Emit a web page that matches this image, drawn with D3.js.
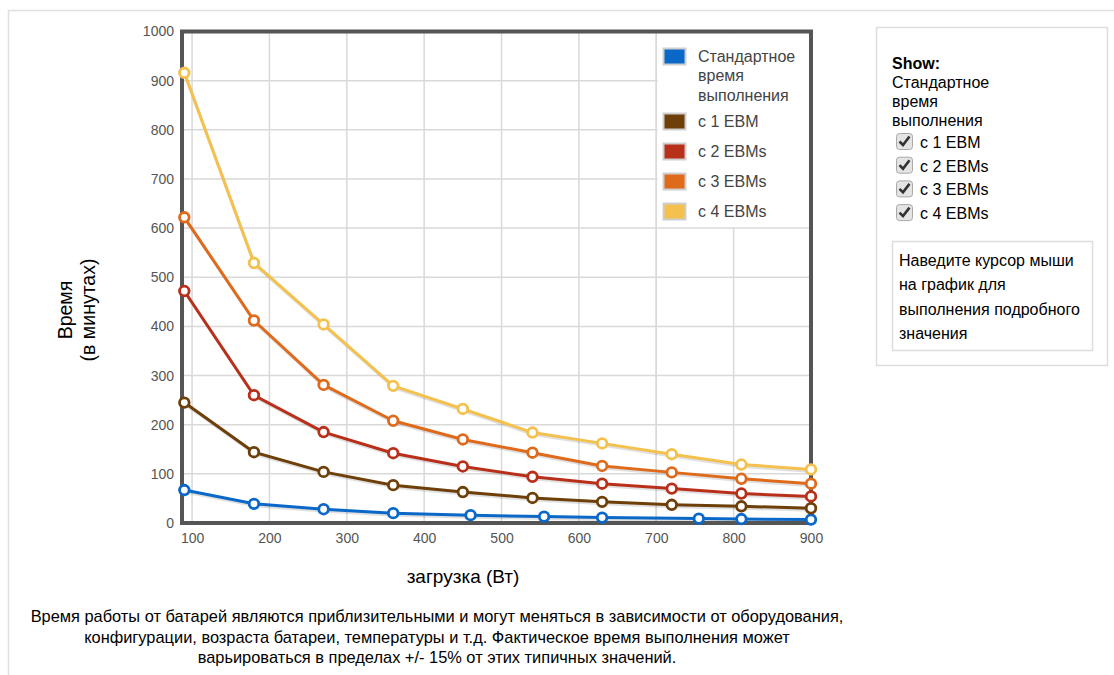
<!DOCTYPE html>
<html><head><meta charset="utf-8">
<script src="https://cdn.jsdelivr.net/npm/d3@7"></script>
<style>
body{margin:0;background:#fff;font-family:"Liberation Sans",Arial,sans-serif;}
svg{display:block}
</style></head><body>
<svg id="c" width="1114" height="675"></svg>
<script>
const xStd = [90,180,270,360,460,555,630,755,810,900];
const xEbm = [90,180,270,360,450,540,630,720,810,900];
const seriesNames = ["Стандартное время выполнения","с 1 EBM","с 2 EBMs","с 3 EBMs","с 4 EBMs"];
const seriesColors = ["#0a68c8","#6e3f08","#b9301a","#df6a1c","#f4c04e"];
const valStd  = [67,39,28,20,16,13,11,9,8,7];
const val1    = [245,144,104,77,63,51,43,37,34,30];
const val2    = [472,260,185,142,115,94,80,70,60,54];
const val3    = [622,412,281,208,170,143,116,103,90,80];
const val4    = [916,529,404,279,232,184,162,140,119,109];
const xTicks = [100,200,300,400,500,600,700,800,900];
const yTicks = [0,100,200,300,400,500,600,700,800,900,1000];
const noteLines = ["Время работы от батарей являются приблизительными и могут меняться в зависимости от оборудования,",
 "конфигурации, возраста батареи, температуры и т.д. Фактическое время выполнения может",
 "варьироваться в пределах +/- 15% от этих типичных значений."];
const showItems = ["с 1 EBM","с 2 EBMs","с 3 EBMs","с 4 EBMs"];
const hoverLines = ["Наведите курсор мыши","на график для","выполнения подробного","значения"];

const series = [
  {name:seriesNames[0], color:seriesColors[0], xs:xStd, ys:valStd},
  {name:seriesNames[1], color:seriesColors[1], xs:xEbm, ys:val1},
  {name:seriesNames[2], color:seriesColors[2], xs:xEbm, ys:val2},
  {name:seriesNames[3], color:seriesColors[3], xs:xEbm, ys:val3},
  {name:seriesNames[4], color:seriesColors[4], xs:xEbm, ys:val4}
];
const FF = "Liberation Sans, Arial, sans-serif";
const svg = d3.select("#c");
// outer frame
svg.append("path").attr("d","M8.5,675 L8.5,10.5 L1114,10.5").attr("fill","none").attr("stroke","#e0e0e0").attr("stroke-width",1.5);

const L=182, R=811, T=31.5, B=523;
const x = d3.scaleLinear().domain([87,900]).range([L,R]);
const y = d3.scaleLinear().domain([0,1000]).range([B,T]);

// grid
const g = svg.append("g");
g.selectAll(".vg").data(xTicks).join("line")
  .attr("x1",d=>x(d)).attr("x2",d=>x(d)).attr("y1",T).attr("y2",B)
  .attr("stroke","#d9d9d9").attr("stroke-width",1.5);
g.selectAll(".hg").data(yTicks).join("line")
  .attr("x1",L).attr("x2",R).attr("y1",d=>y(d)).attr("y2",d=>y(d))
  .attr("stroke","#d9d9d9").attr("stroke-width",1.5);

// legend background
svg.append("rect").attr("x",x(700)+1.5).attr("y",T+2).attr("width",R-x(700)-3).attr("height",y(600)-T-3).attr("fill","#fff");
svg.append("line").attr("x1",x(700)).attr("x2",x(700)).attr("y1",T).attr("y2",B).attr("stroke","#d9d9d9").attr("stroke-width",1.5);

// axes labels via d3 axis
const yAxis = d3.axisLeft(y).tickValues(yTicks).tickFormat(d3.format("d")).tickSize(0).tickPadding(8);
const ya = svg.append("g").attr("transform",`translate(${L},0)`).call(yAxis);
ya.select(".domain").remove();
ya.selectAll("text").attr("font-family",FF).attr("font-size",14).attr("fill","#555");
const xAxis = d3.axisBottom(x).tickValues(xTicks).tickFormat(d3.format("d")).tickSize(0).tickPadding(10);
const xa = svg.append("g").attr("transform",`translate(0,${B})`).call(xAxis);
xa.select(".domain").remove();
xa.selectAll("text").attr("font-family",FF).attr("font-size",14).attr("fill","#555");

// lines
const line = d3.line().x(d=>x(d[0])).y(d=>y(d[1]));
series.forEach(s=>{
  const pts = s.xs.map((v,i)=>[v,s.ys[i]]);
  svg.append("path").datum(pts).attr("d",line).attr("fill","none")
    .attr("stroke","#000").attr("stroke-opacity",0.12).attr("stroke-width",3)
    .attr("transform","translate(1,2)");
});
series.forEach(s=>{
  const pts = s.xs.map((v,i)=>[v,s.ys[i]]);
  svg.append("path").datum(pts).attr("d",line).attr("fill","none")
    .attr("stroke",s.color).attr("stroke-width",3).attr("stroke-linejoin","round");
});

// plot border
svg.append("rect").attr("x",L).attr("y",T).attr("width",R-L).attr("height",B-T)
  .attr("fill","none").attr("stroke","#555").attr("stroke-width",4);

// markers
series.forEach(s=>{
  const pts = s.xs.map((v,i)=>[v,s.ys[i]]);
  svg.append("g").selectAll("circle").data(pts).join("circle")
    .attr("cx",d=>x(d[0])).attr("cy",d=>y(d[1])).attr("r",4.8)
    .attr("fill","#fff").attr("stroke",s.color).attr("stroke-width",2.8);
});

// legend
const lg = svg.append("g").attr("font-family",FF).attr("font-size",16).attr("fill","#444");
const legY = [48,113,143,173,203];
series.forEach((s,i)=>{
  lg.append("rect").attr("x",663.5).attr("y",legY[i]+0.5).attr("width",22).attr("height",16)
    .attr("fill",s.color).attr("stroke","#cfcfcf").attr("stroke-width",2);
});
const legText = [["Стандартное","время","выполнения"],["с 1 EBM"],["с 2 EBMs"],["с 3 EBMs"],["с 4 EBMs"]];
legText.forEach((lines,i)=>{
  lines.forEach((t,j)=>{
    lg.append("text").attr("x",698).attr("y",legY[i]+14+j*19.3).text(t);
  });
});

// axis titles
const yt = svg.append("text").attr("transform","translate(72,310) rotate(-90)").attr("text-anchor","middle")
  .attr("font-family",FF).attr("font-size",19.5).attr("fill","#000");
yt.append("tspan").attr("x",0).attr("dy",0).text("Время");
yt.append("tspan").attr("x",0).attr("dy",23).text("(в минутах)");
svg.append("text").attr("x",463).attr("y",583).attr("text-anchor","middle")
  .attr("font-family",FF).attr("font-size",19).attr("fill","#000").text("загрузка (Вт)");

// note
noteLines.forEach((t,i)=>{
  svg.append("text").attr("x",437).attr("y",622+i*20.5).attr("text-anchor","middle")
    .attr("font-family",FF).attr("font-size",16.4).attr("fill","#000").text(t);
});

// right panel
svg.append("rect").attr("x",876.5).attr("y",27.5).attr("width",231).attr("height",338)
  .attr("fill","#fff").attr("stroke","#ddd").attr("stroke-width",1.5);
svg.append("rect").attr("x",892.5).attr("y",241.5).attr("width",200).attr("height",109)
  .attr("fill","#fff").attr("stroke","#ddd").attr("stroke-width",1.5);
const rp = svg.append("g").attr("font-family",FF).attr("font-size",16).attr("fill","#000");
rp.append("text").attr("x",892).attr("y",69).attr("font-weight","bold").text("Show:");
["Стандартное","время","выполнения"].forEach((t,i)=>{
  rp.append("text").attr("x",892).attr("y",88+i*19).text(t);
});
showItems.forEach((t,i)=>{
  const cy = 142+i*23.7;
  const cb = rp.append("g").attr("transform",`translate(896,${cy-9})`);
  cb.append("rect").attr("x",0.5).attr("y",0.5).attr("width",16).attr("height",16).attr("rx",3)
    .attr("fill","#e4e4e4").attr("stroke","#a9a9a9").attr("stroke-width",1);
  cb.append("path").attr("d","M3.5,8.5 L7,12 L13.5,3.5").attr("fill","none").attr("stroke","#333").attr("stroke-width",2.6);
  rp.append("text").attr("x",920).attr("y",cy+6).text(t);
});
hoverLines.forEach((t,i)=>{
  rp.append("text").attr("x",899).attr("y",266+i*24.3).text(t);
});
</script>
</body></html>
